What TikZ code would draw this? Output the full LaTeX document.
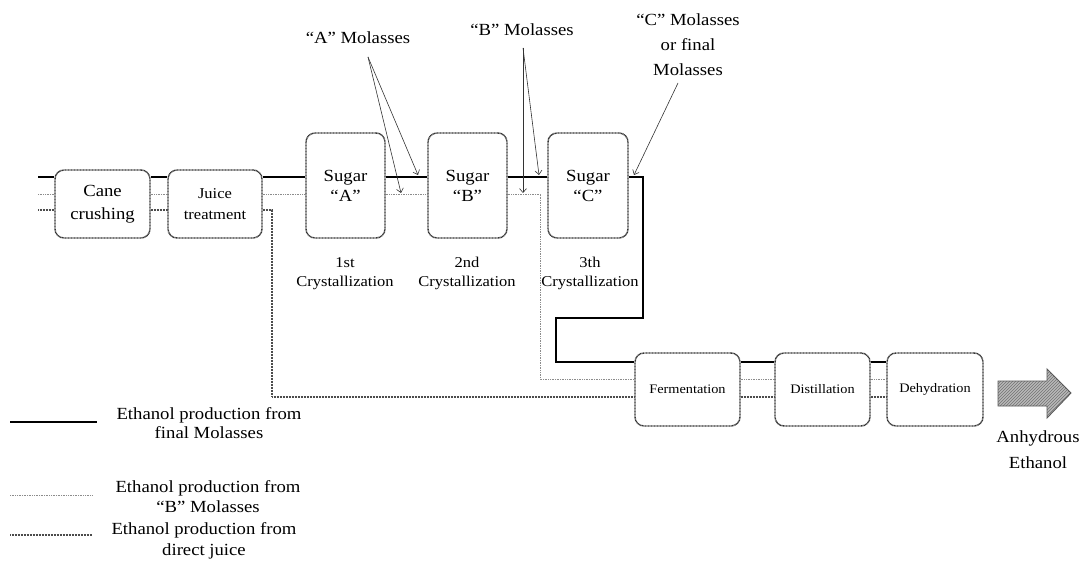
\documentclass[tikz,border=0pt]{standalone}
\usepackage{fontspec}
\setmainfont{Liberation Serif}[FakeStretch=1.1]
\usetikzlibrary{arrows.meta,patterns}
\begin{document}
\begin{tikzpicture}[x=1pt,y=-1pt,
  box/.style={draw=black!80, line width=1.4pt, dash pattern=on 1pt off 0.5pt,
    rounded corners=9pt, fill=white, align=center, inner sep=0pt},
  blk/.style={line width=1.5pt, black},
  bline/.style={line width=1pt, black!45, dash pattern=on 1pt off 0.7pt},
  jline/.style={line width=1.6pt, black!70, dash pattern=on 1pt off 0.5pt},
  ptr/.style={black!80, line width=0.6pt, -{Straight Barb[length=4pt,width=7pt]}},
  lbl/.style={align=center, inner sep=0pt},
  f17/.style={font=\fontsize{17}{21}\selectfont},
]
\useasboundingbox (0,0) rectangle (1089,569);

% boxes
\node[box, minimum width=95pt, minimum height=68pt, font=\fontsize{17}{23}\selectfont] (cane) at (102.5,204) {Cane\\crushing};
\node[box, minimum width=94pt, minimum height=68pt, font=\fontsize{15}{21}\selectfont] (juice) at (215,204) {Juice\\treatment};
\node[box, minimum width=79pt, minimum height=105pt, font=\fontsize{17}{20}\selectfont] (sA) at (345.5,185.5) {Sugar\\“A”};
\node[box, minimum width=79pt, minimum height=105pt, font=\fontsize{17}{20}\selectfont] (sB) at (467.5,185.5) {Sugar\\“B”};
\node[box, minimum width=80pt, minimum height=105pt, font=\fontsize{17}{20}\selectfont] (sC) at (588,185.5) {Sugar\\“C”};
\node[box, minimum width=105pt, minimum height=73pt, font=\fontsize{13}{16}\selectfont] (ferm) at (687.5,389.5) {Fermentation};
\node[box, minimum width=95pt, minimum height=73pt, font=\fontsize{13}{16}\selectfont] (dist) at (822.5,389.5) {Distillation};
\node[box, minimum width=96pt, minimum height=73pt, font=\fontsize{13}{16}\selectfont] (dehy) at (935,389.5) {Dehydration};

% level coordinates
\coordinate (inK) at (38,177);
\coordinate (inB) at (38,195);
\coordinate (inJ) at (38,210);
\coordinate (kc1) at (643,318);
\coordinate (kc2) at (556,362);
\coordinate (bc) at (540,379);
\coordinate (jc) at (272,397);

% black line: final molasses
\draw[blk] (inK) -- (cane.west |- inK);
\draw[blk] (cane.east |- inK) -- (juice.west |- inK);
\draw[blk] (juice.east |- inK) -- (sA.west |- inK);
\draw[blk] (sA.east |- inK) -- (sB.west |- inK);
\draw[blk] (sB.east |- inK) -- (sC.west |- inK);
\draw[blk] (sC.east |- inK) -| (kc1) -| (kc2) -- (ferm.west |- kc2);
\draw[blk] (ferm.east |- kc2) -- (dist.west |- kc2);
\draw[blk] (dist.east |- kc2) -- (dehy.west |- kc2);

% B molasses line
\draw[bline] (inB) -- (cane.west |- inB);
\draw[bline] (cane.east |- inB) -- (juice.west |- inB);
\draw[bline] (juice.east |- inB) -- (sA.west |- inB);
\draw[bline] (sA.east |- inB) -- (sB.west |- inB);
\draw[bline] (sB.east |- inB) -| (bc) -- (ferm.west |- bc);
\draw[bline] (ferm.east |- bc) -- (dist.west |- bc);
\draw[bline] (dist.east |- bc) -- (dehy.west |- bc);

% direct juice line
\draw[jline] (inJ) -- (cane.west |- inJ);
\draw[jline] (cane.east |- inJ) -- (juice.west |- inJ);
\draw[jline] (juice.east |- inJ) -| (jc) -- (ferm.west |- jc);
\draw[jline] (ferm.east |- jc) -- (dist.west |- jc);
\draw[jline] (dist.east |- jc) -- (dehy.west |- jc);

% molasses labels and pointers
\node[lbl, f17] (molA) at (358,38) {“A” Molasses};
\node[lbl, f17] (molB) at (522,30) {“B” Molasses};
\node[lbl, font=\fontsize{17}{25}\selectfont] (molC) at (688,45) {“C” Molasses\\or final\\Molasses};
\coordinate (pA) at (368,57);
\coordinate (pB) at (523,48);
\coordinate (pC) at (678,83);
\coordinate (tA1) at (401,193);
\coordinate (tA2) at (418,175);
\coordinate (tB1) at (523,193);
\coordinate (tB2) at (539,175);
\coordinate (tC) at (634,175);
\draw[ptr] (pA) -- (tA1);
\draw[ptr] (pA) -- (tA2);
\draw[ptr] (pB) -- (tB1);
\draw[ptr] (pB) -- (tB2);
\draw[ptr] (pC) -- (tC);

% crystallization labels
\node[lbl, font=\fontsize{15}{19}\selectfont] (c1) at (345,273.5) {1st\\Crystallization};
\node[lbl, font=\fontsize{15}{19}\selectfont] (c2) at (467,273.5) {2nd\\Crystallization};
\node[lbl, font=\fontsize{15}{19}\selectfont] (c3) at (590,273.5) {3th\\Crystallization};

% output arrow
\path[fill=gray!55]
  (998,381) -- (1047,381) -- (1047,369) -- (1071,393) -- (1047,418) -- (1047,406) -- (998,406) -- cycle;
\path[pattern=north east lines, pattern color=black!55]
  (998,381) -- (1047,381) -- (1047,369) -- (1071,393) -- (1047,418) -- (1047,406) -- (998,406) -- cycle;
\draw[draw=black!65, line width=0.9pt]
  (998,381) -- (1047,381) -- (1047,369) -- (1071,393) -- (1047,418) -- (1047,406) -- (998,406) -- cycle;
\node[lbl, font=\fontsize{17}{26}\selectfont] (anh) at (1038,450) {Anhydrous\\Ethanol};

% legend
\coordinate (l1a) at (10,422); \coordinate (l1b) at (97,422);
\coordinate (l2a) at (10,495); \coordinate (l2b) at (92,495);
\coordinate (l3a) at (10,535); \coordinate (l3b) at (92,535);
\draw[blk] (l1a) -- (l1b);
\draw[bline] (l2a) -- (l2b);
\draw[jline] (l3a) -- (l3b);
\node[lbl, font=\fontsize{17}{19}\selectfont] (t1) at (209,423) {Ethanol production from\\final Molasses};
\node[lbl, font=\fontsize{17}{20}\selectfont] (t2) at (208,497) {Ethanol production from\\“B” Molasses};
\node[lbl, font=\fontsize{17}{21}\selectfont] (t3) at (204,541) {Ethanol production from\\direct juice};
\end{tikzpicture}
\end{document}
